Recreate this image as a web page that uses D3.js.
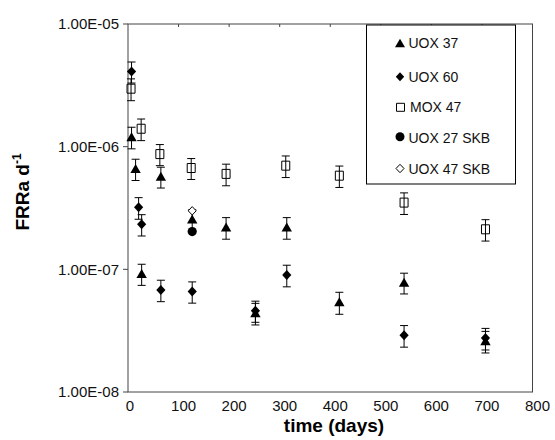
<!DOCTYPE html>
<html><head><meta charset="utf-8">
<script src="https://cdn.jsdelivr.net/npm/d3@7/dist/d3.min.js"></script>
<style>body{margin:0;background:#fff}svg{display:block}</style>
</head><body>
<svg id="c" width="555" height="440"></svg>
<script>
// [day, value, error]
const uox37 = [[7,1.2e-6,0.24e-6],[15,6.6e-7,1.3e-7],[27,9.2e-8,1.8e-8],[65,5.7e-7,1.1e-7],[127,2.56e-7,0.5e-7],[194,2.2e-7,0.44e-7],[252,4.4e-8,0.88e-8],[314,2.2e-7,0.44e-7],[418,5.4e-8,1.1e-8],[546,7.8e-8,1.5e-8],[707,2.6e-8,0.52e-8]];
const uox60 = [[7,4.1e-6,0.8e-6],[21,3.2e-7,0.64e-7],[27,2.33e-7,0.46e-7],[65,6.8e-8,1.35e-8],[127,6.6e-8,1.3e-8],[252,4.6e-8,0.9e-8],[314,9.0e-8,1.8e-8],[546,2.9e-8,0.58e-8],[707,2.75e-8,0.55e-8]];
const mox47 = [[6,2.97e-6,0.6e-6],[26,1.4e-6,0.28e-6],[63,8.7e-7,1.7e-7],[125,6.7e-7,1.3e-7],[194,6.0e-7,1.2e-7],[312,7.0e-7,1.4e-7],[418,5.8e-7,1.15e-7],[546,3.5e-7,0.7e-7],[707,2.12e-7,0.42e-7]];
const uox27skb = [[127,2.03e-7,0]];
const uox47skb = [[127,3.0e-7,0]];
const yTicks = [1e-8,1e-7,1e-6,1e-5];
const yTickLabels = ["1.00E-08","1.00E-07","1.00E-06","1.00E-05"];
const xTicks = [0,100,200,300,400,500,600,700,800];
const legendNames = ["UOX 37","UOX 60","MOX 47","UOX 27 SKB","UOX 47 SKB"];

const svg = d3.select("#c");
const L=128, R=532.5, T=24, B=392;
const x = d3.scaleLinear().domain([0,800]).range([L,R]);
const y = d3.scaleLog().domain([1e-8,1e-5]).range([B,T]);
const font = "Liberation Sans, Arial, sans-serif";

// frame
svg.append("rect").attr("x",L).attr("y",T).attr("width",R-L).attr("height",B-T)
  .attr("fill","none").attr("stroke","#444").attr("stroke-width",1);

// top ticks (inward)
svg.append("g").selectAll("line").data(xTicks.slice(1,-1)).join("line")
  .attr("x1",d=>x(d)).attr("x2",d=>x(d)).attr("y1",T).attr("y2",T+3)
  .attr("stroke","#444");
// x labels
svg.append("g").selectAll("text").data(xTicks).join("text")
  .attr("x",d=>x(d)+(d===0?2:5)).attr("y",B+19).attr("text-anchor","middle")
  .attr("font-family",font).attr("font-size",15).attr("fill","#111").text(d=>d);
// y ticks
svg.append("g").selectAll("line").data(yTicks).join("line")
  .attr("x1",L-5).attr("x2",L).attr("y1",d=>y(d)).attr("y2",d=>y(d)).attr("stroke","#444");
svg.append("g").selectAll("text").data(yTicks).join("text")
  .attr("x",L-9).attr("y",d=>y(d)).attr("dy","0.36em").attr("text-anchor","end")
  .attr("font-family",font).attr("font-size",15).attr("fill","#111").text((d,i)=>yTickLabels[i]);

// titles
svg.append("text").attr("x",334).attr("y",432).attr("text-anchor","middle")
  .attr("font-family",font).attr("font-size",19).attr("font-weight","bold").text("time (days)");
const yt = svg.append("text").attr("transform","translate(29,192) rotate(-90)").attr("text-anchor","middle")
  .attr("font-family",font).attr("font-size",19).attr("font-weight","bold");
yt.append("tspan").text("FRRa d");
yt.append("tspan").attr("font-size",12).attr("dy","-0.7em").text("-1");

// marker paths
const tri = "M0,-4.8L5.2,4.2L-5.2,4.2Z";
const dia = "M0,-5L4.6,0L0,5L-4.6,0Z";
const sq = "M-4,-4.5H4V4.5H-4Z";
const triL = "M0,-4.5L5,4L-5,4Z";
const diaL = "M0,-4.5L4.2,0L0,4.5L-4.2,0Z";
const diaO = "M0,-4.2L4,0L0,4.2L-4,0Z";
const sqL = "M-4,-4H4V4H-4Z";

function errs(data){
  const g = svg.append("g").attr("stroke","#000").attr("stroke-width",1);
  data.filter(d=>d[2]>0).forEach(d=>{
    const cx=x(d[0]), y1=y(d[1]+d[2]), y2=y(d[1]-d[2]);
    g.append("line").attr("x1",cx).attr("x2",cx).attr("y1",y1).attr("y2",y2);
    g.append("line").attr("x1",cx-4).attr("x2",cx+4).attr("y1",y1).attr("y2",y1);
    g.append("line").attr("x1",cx-4).attr("x2",cx+4).attr("y1",y2).attr("y2",y2);
  });
}
[mox47,uox37,uox60].forEach(errs);

function marks(data,path,fill,stroke){
  svg.append("g").selectAll("path").data(data).join("path")
    .attr("d",path).attr("transform",d=>`translate(${x(d[0])},${y(d[1])})`)
    .attr("fill",fill).attr("stroke",stroke).attr("stroke-width",1);
}
marks(mox47,sq,"none","#000");
marks(uox37,tri,"#000","none");
marks(uox60,dia,"#000","none");
svg.append("g").selectAll("circle").data(uox27skb).join("circle")
  .attr("cx",d=>x(d[0])).attr("cy",d=>y(d[1])).attr("r",4.6).attr("fill","#000");
marks(uox47skb,diaO,"#fff","#000");

// legend
svg.append("rect").attr("x",366.5).attr("y",25).attr("width",149).attr("height",159)
  .attr("fill","#fff").attr("stroke","#000").attr("stroke-width",1);
const ly = [48.3,81.7,112.3,142.7,174];
const lg = svg.append("g");
lg.append("path").attr("d",triL).attr("transform",`translate(400,${ly[0]-5})`).attr("fill","#000");
lg.append("path").attr("d",diaL).attr("transform",`translate(400,${ly[1]-5})`).attr("fill","#000");
lg.append("path").attr("d",sqL).attr("transform",`translate(400.5,${ly[2]-5})`).attr("fill","none").attr("stroke","#000");
lg.append("circle").attr("cx",400).attr("cy",ly[3]-6).attr("r",4.5).attr("fill","#000");
lg.append("path").attr("d",diaO).attr("transform",`translate(400,${ly[4]-5.5})`).attr("fill","#fff").attr("stroke","#000");
lg.selectAll("text").data(legendNames).join("text")
  .attr("x",(d,i)=>i===2?410:408.5).attr("y",(d,i)=>ly[i])
  .attr("font-family",font).attr("font-size",14).attr("fill","#111").text(d=>d);
</script>
</body></html>
